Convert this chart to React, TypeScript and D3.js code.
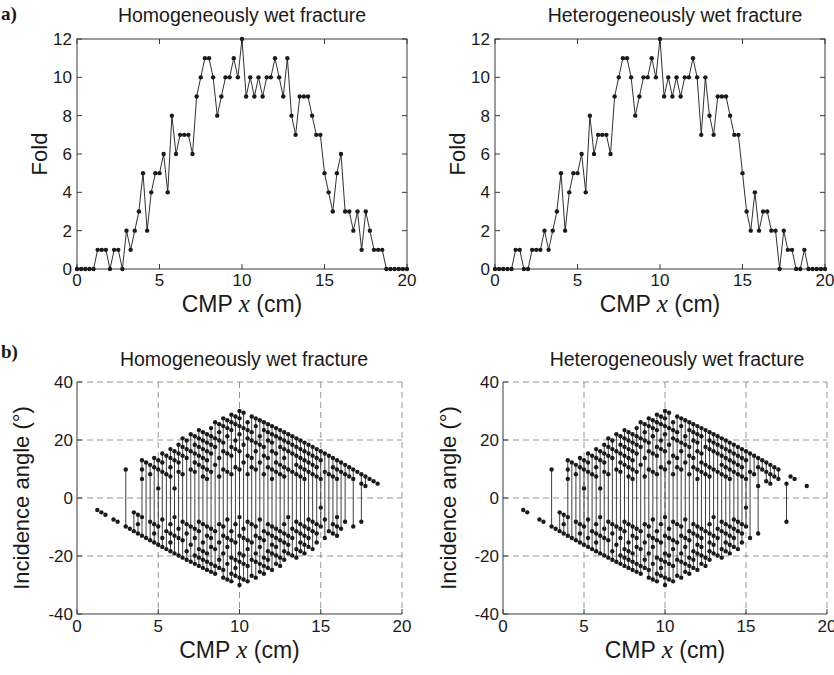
import React from 'react';
import * as d3 from 'd3';

const CMP_STEP = 0.25; // cm between CMP bins
const X_TICKS = [0, 5, 10, 15, 20];
const FOLD_TICKS = [0, 2, 4, 6, 8, 10, 12];
const ANGLE_TICKS = [-40, -20, 0, 20, 40];
const ANGLE_GRID = [-20, 0, 20];
const X_GRID = [5, 10, 15];
const FRACTURE_DEPTH_CM = 17.32; // converts source-receiver offset to incidence angle

const FOLD_HOM = [0,0,0,0,0,1,1,1,0,1,1,0,2,1,2,3,5,2,4,5,5,6,4,8,6,7,7,7,6,9,10,11,11,10,8,9,10,10,11,10,12,9,10,9,10,9,10,10,11,10,9,11,8,7,9,9,9,8,7,7,5,4,3,5,6,3,3,2,3,1,3,2,1,1,1,0,0,0,0,0,0];
const FOLD_HET = [0,0,0,0,0,1,1,0,0,1,1,1,2,1,2,3,5,2,4,5,5,6,4,8,6,7,7,7,6,9,10,11,11,10,8,9,10,10,11,10,12,9,10,9,10,9,10,10,11,10,7,10,8,7,9,9,9,8,7,7,5,3,2,4,2,3,3,2,2,0,2,1,1,0,0,1,0,0,0,0,0];

// receiver-minus-source offsets (cm) of the traces in each CMP bin
const OFFSETS_HOM: number[][] = [
  [],[],[],[],[],
  [-2.5],[-3],[-3.5],[],[-4.5],[-5],[],
  [6,-6],[-6.5],[-7,-3],[-7.5,-5.5,-3.5],
  [8,6,4,-8,-4],[7.5,-8.5],[7,5,-9,-5],[8.5,6.5,-9.5,-7.5,-5.5],
  [8,6,2,-10,-6],[9.5,7.5,5.5,-10.5,-8.5,-4.5],[9,5,-11,-7],[10.5,8.5,6.5,4.5,-11.5,-9.5,-7.5,-5.5],
  [10,8,2,-12,-8,-4],[11.5,9.5,7.5,5.5,-12.5,-8.5,-6.5],[13,11,9,5,-13,-9,-5],[12.5,10.5,8.5,-13.5,-11.5,-7.5,-5.5],
  [14,10,6,-14,-10,-6],[13.5,11.5,9.5,7.5,5.5,-14.5,-12.5,-8.5,-6.5],[15,13,11,9,7,-15,-13,-11,-7,-5],[14.5,12.5,10.5,8.5,6.5,4.5,-15.5,-13.5,-11.5,-9.5,-5.5],
  [14,12,10,8,6,4,-16,-14,-12,-8,-6],[15.5,13.5,11.5,9.5,5.5,-16.5,-14.5,-10.5,-8.5,-6.5],[17,13,11,7,-17,-15,-11,-7],[16.5,14.5,12.5,8.5,4.5,-15.5,-13.5,-9.5,-5.5],
  [18,16,12,10,6,-18,-16,-12,-8,-6],[17.5,15.5,13.5,9.5,5.5,-18.5,-14.5,-10.5,-8.5,-4.5],[19,17,15,11,9,5,-19,-17,-13,-9,-7],[18.5,16.5,12.5,10.5,6.5,-17.5,-15.5,-13.5,-9.5,-5.5],
  [20,18,16,14,10,6,-20,-18,-14,-12,-8,-4],[19.5,15.5,11.5,7.5,-18.5,-14.5,-12.5,-8.5,-6.5],[17,15,13,9,5,-19,-15,-11,-9,-5],[18.5,14.5,12.5,8.5,6.5,-17.5,-13.5,-9.5,-5.5],
  [18,16,12,10,6,-18,-14,-12,-8,-6],[17.5,13.5,11.5,7.5,-16.5,-14.5,-10.5,-8.5,-4.5],[17,15,11,9,5,-17,-15,-13,-9,-7],[16.5,14.5,12.5,8.5,6.5,-15.5,-13.5,-11.5,-7.5,-5.5],
  [16,14,12,10,6,4,-16,-12,-10,-8,-6],[15.5,13.5,9.5,7.5,5.5,-14.5,-12.5,-10.5,-8.5,-6.5],[15,13,11,7,5,-15,-13,-9,-7],[14.5,12.5,10.5,8.5,6.5,4.5,-13.5,-11.5,-9.5,-7.5,-5.5],
  [14,12,10,6,-12,-10,-8,-4],[13.5,11.5,9.5,5.5,-12.5,-8.5,-6.5],[13,11,9,7,5,-13,-11,-7,-5],[12.5,10.5,8.5,6.5,4.5,-11.5,-9.5,-7.5,-5.5],
  [12,10,8,6,4,-12,-10,-8,-6],[11.5,9.5,7.5,5.5,-10.5,-8.5,-6.5,-4.5],[11,9,7,5,-11,-7,-5],[10.5,8.5,6.5,4.5,-9.5,-7.5,-5.5],
  [10,8,4,-6,-2],[9.5,5.5,-8.5,-4.5],[9,5,-7],[8.5,6.5,4.5,-7.5,-5.5],
  [8,6,4,-8,-6,-4],[7.5,5.5,-6.5],[7,5,-5],[6.5,4.5],
  [6,4,-6],[5.5],[5,3,-5],[4.5,2.5],
  [4],[3.5],[3],[],[],[],[],[],[]
];

const OFFSETS_HET: number[][] = [
  [],[],[],[],[],
  [-2.5],[-3],[],[],[-4.5],[-5],[],
  [6,-6],[-6.5],[-7,-3],[-7.5,-5.5,-3.5],
  [8,6,4,-8,-4],[7.5,-8.5],[7,5,-9,-5],[8.5,6.5,-9.5,-7.5,-5.5],
  [8,6,2,-10,-6],[9.5,7.5,5.5,-10.5,-8.5,-4.5],[9,5,-11,-7],[10.5,8.5,6.5,4.5,-11.5,-9.5,-7.5,-5.5],
  [10,8,2,-12,-8,-4],[11.5,9.5,7.5,5.5,-12.5,-8.5,-6.5],[13,11,9,5,-13,-9,-5],[12.5,10.5,8.5,-13.5,-11.5,-7.5,-5.5],
  [14,10,6,-14,-10,-6],[13.5,11.5,9.5,7.5,5.5,-14.5,-12.5,-8.5,-6.5],[15,13,11,9,7,-15,-13,-11,-7,-5],[14.5,12.5,10.5,8.5,6.5,4.5,-15.5,-13.5,-11.5,-9.5,-5.5],
  [14,12,10,8,6,4,-16,-14,-12,-8,-6],[15.5,13.5,11.5,9.5,5.5,-16.5,-14.5,-10.5,-8.5,-6.5],[17,13,11,7,-17,-15,-11,-7],[16.5,14.5,12.5,8.5,4.5,-15.5,-13.5,-9.5,-5.5],
  [18,16,12,10,6,-18,-16,-12,-8,-6],[17.5,15.5,13.5,9.5,5.5,-18.5,-14.5,-10.5,-8.5,-4.5],[19,17,15,11,9,5,-19,-17,-13,-9,-7],[18.5,16.5,12.5,10.5,6.5,-17.5,-15.5,-13.5,-9.5,-5.5],
  [20,18,16,14,10,6,-20,-18,-14,-12,-8,-4],[19.5,15.5,11.5,7.5,-18.5,-14.5,-12.5,-8.5,-6.5],[17,15,13,9,5,-19,-15,-11,-9,-5],[18.5,14.5,12.5,8.5,6.5,-17.5,-13.5,-9.5,-5.5],
  [18,16,12,10,6,-18,-14,-12,-8,-6],[17.5,13.5,11.5,7.5,-16.5,-14.5,-10.5,-8.5,-4.5],[17,15,11,9,5,-17,-15,-13,-9,-7],[16.5,14.5,12.5,8.5,6.5,-15.5,-13.5,-11.5,-7.5,-5.5],
  [16,14,12,10,6,4,-16,-12,-10,-8,-6],[15.5,13.5,9.5,7.5,5.5,-14.5,-12.5,-10.5,-8.5,-6.5],[15,11,7,5,-15,-13,-7],[14.5,12.5,10.5,6.5,4.5,-13.5,-11.5,-9.5,-7.5,-5.5],
  [14,12,10,6,-12,-10,-8,-4],[13.5,11.5,9.5,5.5,-12.5,-8.5,-6.5],[13,11,9,7,5,-13,-11,-7,-5],[12.5,10.5,8.5,6.5,4.5,-11.5,-9.5,-7.5,-5.5],
  [12,10,8,6,4,-12,-10,-8,-6],[11.5,9.5,7.5,5.5,-10.5,-8.5,-6.5,-4.5],[11,9,7,5,-11,-7,-5],[10.5,8.5,6.5,4.5,-9.5,-7.5,-5.5],
  [10,8,4,-6,-2],[9.5,5.5,-8.5],[9,5],[8.5,6.5,2.5,-7.5],
  [8,6],[7.5,5.5,3.5],[7,5,3],[6.5,4.5],
  [6,4],[],[3,-5],[4.5],
  [4],[],[],[2.5],[],[],[],[],[]
];

const SANS = '"Liberation Sans", Arial, Helvetica, sans-serif';
const SERIF = '"Liberation Serif", "Times New Roman", serif';
const INK = '#1a1a1a';
const AXIS = '#3a3a3a';

type Box = { x0: number; x1: number; y0: number; y1: number };

function CmpLabel({ x, y }: { x: number; y: number }) {
  return (
    <text x={x} y={y} textAnchor="middle" fontFamily={SANS} fontSize={23} fill={INK}>
      CMP <tspan fontFamily={SERIF} fontStyle="italic" fontSize={25}>x</tspan> (cm)
    </text>
  );
}

function FoldPanel({ box, fold, title, titleX, labelX }: { box: Box; fold: number[]; title: string; titleX: number; labelX: number }) {
  const xs = d3.scaleLinear().domain([0, 20]).range([box.x0, box.x1]);
  const ys = d3.scaleLinear().domain([0, 12]).range([box.y1, box.y0]);
  const pts: [number, number][] = fold.map((v, i) => [i * CMP_STEP, v]);
  const line = d3.line<[number, number]>().x(d => xs(d[0])).y(d => ys(d[1]));
  const tl = 5;
  return (
    <g>
      <text x={titleX} y={box.y0 - 17} textAnchor="middle" fontFamily={SANS} fontSize={19.5} fill={INK}>{title}</text>
      <rect x={box.x0} y={box.y0} width={box.x1 - box.x0} height={box.y1 - box.y0} fill="none" stroke={AXIS} strokeWidth={1} />
      {X_TICKS.map(t => (
        <g key={'x' + t}>
          <line x1={xs(t)} x2={xs(t)} y1={box.y1} y2={box.y1 - tl} stroke={AXIS} />
          <line x1={xs(t)} x2={xs(t)} y1={box.y0} y2={box.y0 + tl} stroke={AXIS} />
          <text x={xs(t)} y={box.y1 + 17} textAnchor="middle" fontFamily={SANS} fontSize={17} fill={INK}>{t}</text>
        </g>
      ))}
      {FOLD_TICKS.map(t => (
        <g key={'y' + t}>
          <line x1={box.x0} x2={box.x0 + tl} y1={ys(t)} y2={ys(t)} stroke={AXIS} />
          <line x1={box.x1} x2={box.x1 - tl} y1={ys(t)} y2={ys(t)} stroke={AXIS} />
          <text x={box.x0 - 5} y={ys(t) + 6} textAnchor="end" fontFamily={SANS} fontSize={17} fill={INK}>{t}</text>
        </g>
      ))}
      <path d={line(pts) || ''} fill="none" stroke={INK} strokeWidth={0.9} />
      {pts.map((p, i) => <circle key={i} cx={xs(p[0])} cy={ys(p[1])} r={2.2} fill={INK} />)}
      <text transform={`translate(${labelX},${(box.y0 + box.y1) / 2}) rotate(-90)`} textAnchor="middle" fontFamily={SANS} fontSize={22} fill={INK}>Fold</text>
      <CmpLabel x={(box.x0 + box.x1) / 2} y={box.y1 + 43} />
    </g>
  );
}

function AnglePanel({ box, offsets, title, titleX, labelX }: { box: Box; offsets: number[][]; title: string; titleX: number; labelX: number }) {
  const xs = d3.scaleLinear().domain([0, 20]).range([box.x0, box.x1]);
  const ys = d3.scaleLinear().domain([-40, 40]).range([box.y1, box.y0]);
  const toAngle = (h: number) => (Math.atan(h / (2 * FRACTURE_DEPTH_CM)) * 180) / Math.PI;
  const cols = offsets.map((hs, i) => ({ x: i * CMP_STEP, a: hs.map(toAngle) })).filter(c => c.a.length > 0);
  const tl = 5;
  return (
    <g>
      <text x={titleX} y={box.y0 - 16} textAnchor="middle" fontFamily={SANS} fontSize={19.5} fill={INK}>{title}</text>
      {X_GRID.map(t => <line key={'gx' + t} x1={xs(t)} x2={xs(t)} y1={box.y0} y2={box.y1} stroke="#8a8a8a" strokeDasharray="6,4" strokeWidth={0.9} />)}
      {ANGLE_GRID.map(t => <line key={'gy' + t} x1={box.x0} x2={box.x1} y1={ys(t)} y2={ys(t)} stroke="#8a8a8a" strokeDasharray="6,4" strokeWidth={0.9} />)}
      <line x1={box.x1} x2={box.x1} y1={box.y0} y2={box.y1} stroke="#8a8a8a" strokeDasharray="6,4" strokeWidth={0.9} />
      <line x1={box.x0} x2={box.x1} y1={box.y0} y2={box.y0} stroke="#8a8a8a" strokeDasharray="6,4" strokeWidth={0.9} />
      <line x1={box.x0} x2={box.x0} y1={box.y0} y2={box.y1} stroke={AXIS} />
      <line x1={box.x0} x2={box.x1} y1={box.y1} y2={box.y1} stroke={AXIS} />
      {X_TICKS.map(t => (
        <g key={'x' + t}>
          <line x1={xs(t)} x2={xs(t)} y1={box.y1} y2={box.y1 - tl} stroke={AXIS} />
          <text x={xs(t)} y={box.y1 + 18} textAnchor="middle" fontFamily={SANS} fontSize={17} fill={INK}>{t}</text>
        </g>
      ))}
      {ANGLE_TICKS.map(t => (
        <g key={'y' + t}>
          <line x1={box.x0} x2={box.x0 + tl} y1={ys(t)} y2={ys(t)} stroke={AXIS} />
          <text x={box.x0 - 4} y={ys(t) + 6} textAnchor="end" fontFamily={SANS} fontSize={17} fill={INK}>{t}</text>
        </g>
      ))}
      {cols.map((c, i) => {
        const lo = d3.min(c.a) as number;
        const hi = d3.max(c.a) as number;
        return (
          <g key={i}>
            {c.a.length > 1 && <line x1={xs(c.x)} x2={xs(c.x)} y1={ys(lo)} y2={ys(hi)} stroke="#2a2a2a" strokeWidth={0.9} />}
            {c.a.map((a, j) => <circle key={j} cx={xs(c.x)} cy={ys(a)} r={2.2} fill={INK} />)}
          </g>
        );
      })}
      <text transform={`translate(${labelX},${(box.y0 + box.y1) / 2}) rotate(-90)`} textAnchor="middle" fontFamily={SANS} fontSize={22} fill={INK}>Incidence angle (°)</text>
      <CmpLabel x={(box.x0 + box.x1) / 2} y={box.y1 + 44} />
    </g>
  );
}

export default function App() {
  return (
    <svg width={834} height={675} viewBox="0 0 834 675" style={{ position: 'absolute', left: 0, top: 0, background: '#fff' }}>
      <rect x={0} y={0} width={834} height={675} fill="#fff" />
      <text x={1} y={20} fontFamily={SERIF} fontWeight="bold" fontSize={19} fill={INK}>a)</text>
      <text x={1} y={358} fontFamily={SERIF} fontWeight="bold" fontSize={19} fill={INK}>b)</text>
      <FoldPanel box={{ x0: 77, x1: 407, y0: 39, y1: 269 }} fold={FOLD_HOM} title="Homogeneously wet fracture" titleX={242} labelX={47} />
      <FoldPanel box={{ x0: 495, x1: 825, y0: 39, y1: 269 }} fold={FOLD_HET} title="Heterogeneously wet fracture" titleX={675} labelX={465} />
      <AnglePanel box={{ x0: 77, x1: 402, y0: 382, y1: 614 }} offsets={OFFSETS_HOM} title="Homogeneously wet fracture" titleX={244} labelX={29} />
      <AnglePanel box={{ x0: 503, x1: 827, y0: 382, y1: 614 }} offsets={OFFSETS_HET} title="Heterogeneously wet fracture" titleX={677} labelX={456} />
    </svg>
  );
}
